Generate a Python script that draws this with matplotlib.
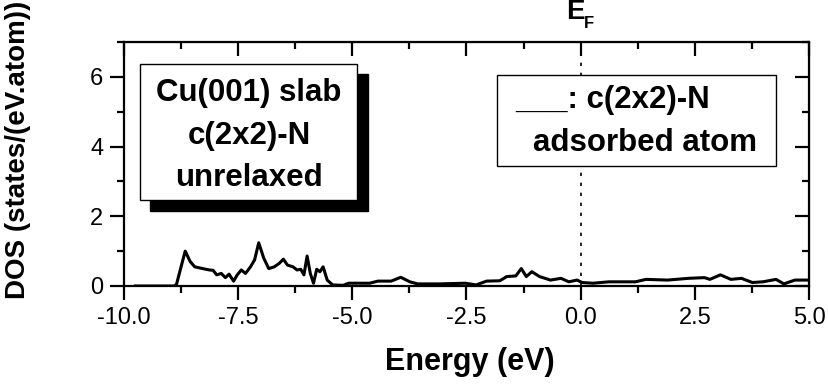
import matplotlib
matplotlib.use("Agg")
import matplotlib.pyplot as plt
from matplotlib.patches import Rectangle
from matplotlib.ticker import MultipleLocator, FormatStrFormatter

plt.rcParams['font.family'] = ['Liberation Sans', 'DejaVu Sans']

# DOS of the adsorbed N atom
energy = [-9.75, -8.9, -8.85, -8.75, -8.66, -8.55, -8.45, -8.28, -8.13, -8.05, -7.97, -7.87,
          -7.78, -7.7, -7.6, -7.52, -7.43, -7.34, -7.23, -7.14, -7.05, -6.94, -6.83, -6.71,
          -6.6, -6.51, -6.42, -6.3, -6.21, -6.13, -6.06, -5.99, -5.92, -5.85, -5.78, -5.71,
          -5.64, -5.55, -5.43, -5.2, -5.08, -4.62, -4.44, -4.15, -3.94, -3.74, -3.57, -3.1,
          -2.52, -2.29, -2.06, -1.77, -1.62, -1.42, -1.3, -1.19, -1.07, -0.9, -0.66, -0.43,
          -0.26, -0.08, 0.03, 0.27, 0.62, 1.2, 1.43, 1.9, 2.36, 2.71, 2.83, 3.06, 3.29,
          3.52, 3.76, 3.99, 4.28, 4.45, 4.69, 5.0]
dos = [0.0, 0.0, 0.05, 0.55, 1.0, 0.7, 0.55, 0.5, 0.46, 0.45, 0.32, 0.36,
       0.24, 0.34, 0.14, 0.32, 0.46, 0.36, 0.55, 0.75, 1.24, 0.8, 0.5, 0.55,
       0.65, 0.77, 0.6, 0.55, 0.46, 0.48, 0.32, 0.86, 0.36, 0.08, 0.48, 0.41,
       0.55, 0.17, 0.03, 0.02, 0.08, 0.08, 0.14, 0.14, 0.25, 0.12, 0.06, 0.06,
       0.08, 0.03, 0.14, 0.15, 0.27, 0.29, 0.5, 0.27, 0.41, 0.27, 0.17, 0.22,
       0.12, 0.17, 0.1, 0.08, 0.12, 0.12, 0.19, 0.17, 0.22, 0.24, 0.19, 0.32, 0.19,
       0.22, 0.1, 0.12, 0.19, 0.06, 0.17, 0.17]

e_fermi = 0.0

fig = plt.figure(figsize=(8.29, 3.9), dpi=100)
W, H = 829, 390
ax = fig.add_axes([124 / W, (H - 286) / H, (809 - 124) / W, (286 - 42) / H])

ax.plot(energy, dos, color='black', lw=2.2)
ax.axvline(e_fermi, color='black', lw=1.2, ls=(0, (2, 4)))

ax.set_xlim(-10, 5)
ax.set_ylim(0, 7)
ax.xaxis.set_major_locator(MultipleLocator(2.5))
ax.xaxis.set_minor_locator(MultipleLocator(1.25))
ax.yaxis.set_major_locator(MultipleLocator(2))
ax.yaxis.set_minor_locator(MultipleLocator(1))
ax.xaxis.set_major_formatter(FormatStrFormatter('%.1f'))

for s in ax.spines.values():
    s.set_linewidth(1.6)
ax.tick_params(which='both', width=1.6, labelsize=17, pad=5)
ax.tick_params(which='major', length=10)
ax.tick_params(which='minor', length=5)
ax.tick_params(which='both', direction='out', top=False, right=False)

# mirrored inward ticks on top and right
ax2 = ax.secondary_xaxis('top')
ax2.xaxis.set_major_locator(MultipleLocator(2.5))
ax2.xaxis.set_minor_locator(MultipleLocator(1.25))
ax2.tick_params(which='both', direction='in', width=1.6, labeltop=False)
ax2.tick_params(which='major', length=10)
ax2.tick_params(which='minor', length=5)
ax2.set_xticklabels([])
ax3 = ax.secondary_yaxis('right')
ax3.yaxis.set_major_locator(MultipleLocator(2))
ax3.yaxis.set_minor_locator(MultipleLocator(1))
ax3.tick_params(which='both', direction='in', width=1.6, labelright=False)
ax3.tick_params(which='major', length=10)
ax3.tick_params(which='minor', length=5)
ax3.set_yticklabels([])

fig.text(470 / W, 1 - 362 / H, 'Energy (eV)', ha='center', va='center',
         fontsize=22, fontweight='bold')
fig.text(18 / W, 1 - 150 / H, 'DOS (states/(eV.atom))', ha='center', va='center',
         rotation=90, fontsize=20, fontweight='bold')

# E_F label above the Fermi line
fig.text(566 / W, 1 - 19 / H, 'E', ha='left', va='baseline', fontsize=20, fontweight='bold')
fig.text(584 / W, 1 - 28 / H, 'F', ha='left', va='baseline', fontsize=12, fontweight='bold')

# left box with shadow
fig.add_artist(Rectangle((150 / W, 1 - 211 / H), 218 / W, 137 / H,
                         transform=fig.transFigure, facecolor='black', edgecolor='black'))
fig.add_artist(Rectangle((140 / W, 1 - 200 / H), 217 / W, 136 / H,
                         transform=fig.transFigure, facecolor='white', edgecolor='black', lw=1))
fig.text(249 / W, 1 - 93 / H, 'Cu(001) slab', ha='center', va='center', fontsize=22.5, fontweight='bold')
fig.text(249 / W, 1 - 136 / H, 'c(2x2)-N', ha='center', va='center', fontsize=22.5, fontweight='bold')
fig.text(249 / W, 1 - 178 / H, 'unrelaxed', ha='center', va='center', fontsize=22.5, fontweight='bold')

# right box
fig.add_artist(Rectangle((497 / W, 1 - 166 / H), 279 / W, 91 / H,
                         transform=fig.transFigure, facecolor='white', edgecolor='black', lw=1))
fig.text(515 / W, 1 - 100 / H, '___: c(2x2)-N', ha='left', va='center', fontsize=22.5, fontweight='bold')
fig.text(533 / W, 1 - 143 / H, 'adsorbed atom', ha='left', va='center', fontsize=22.5, fontweight='bold')

fig.savefig('out.png', dpi=100)
